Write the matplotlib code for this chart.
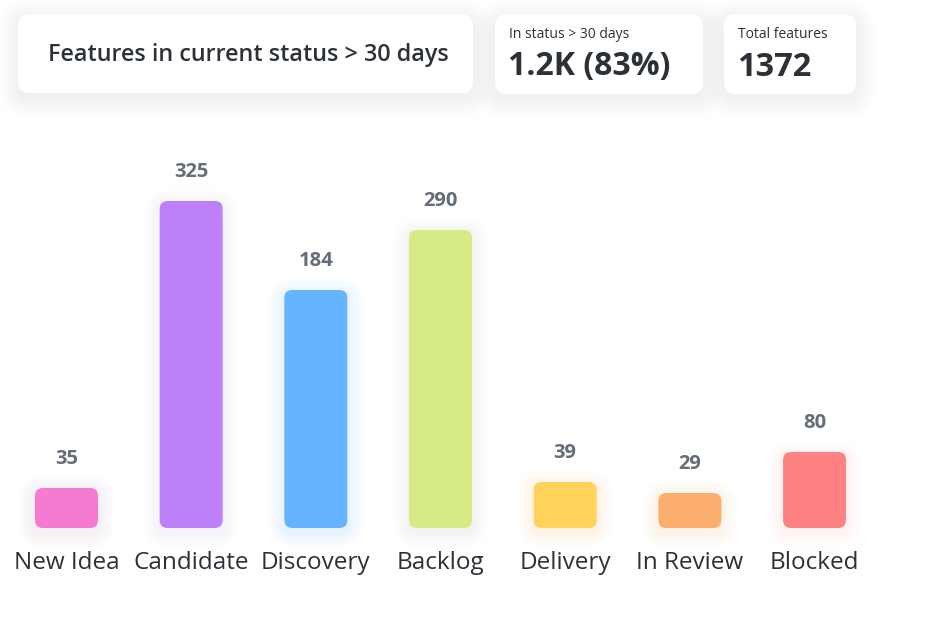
import matplotlib
matplotlib.use("Agg")
import matplotlib.pyplot as plt
from matplotlib.patches import FancyBboxPatch

# ---- data ----
categories = ["New Idea", "Candidate", "Discovery", "Backlog", "Delivery", "In Review", "Blocked"]
value_labels = [35, 325, 184, 290, 39, 29, 80]
bar_heights = [40, 327, 238, 298, 46, 35, 76]   # bar heights as drawn in the picture
bar_colors = ["#f57ad0", "#bd80f9", "#66b3ff", "#d6eb84", "#ffd35a", "#fcae6e", "#ff8282"]
title_text = "Features in current status > 30 days"
kpi1_label, kpi1_value = "In status > 30 days", "1.2K (83%)"
kpi2_label, kpi2_value = "Total features", "1372"

FONT = ["Open Sans", "DejaVu Sans"]
DARK = "#2c3138"
GREY = "#646d78"

W, H = 939, 643
fig = plt.figure(figsize=(W / 100, H / 100), dpi=100)
fig.patch.set_facecolor("white")

# layout layer in pixel coordinates (cards)
lay = fig.add_axes([0, 0, 1, 1])
lay.set_xlim(0, W)
lay.set_ylim(H, 0)
lay.axis("off")


def card(x, y, w, h, r=12):
    for k in range(14, 0, -1):
        p = k * 1.4
        lay.add_patch(FancyBboxPatch((x - p, y - p + 5), w + 2 * p, h + 2 * p,
                                     boxstyle=f"round,pad=0,rounding_size={r + p}",
                                     fc="black", ec="none", alpha=0.0045))
    lay.add_patch(FancyBboxPatch((x, y), w, h, boxstyle=f"round,pad=0,rounding_size={r}",
                                 fc="white", ec="none"))


card(18, 14, 455, 79)
card(495, 14, 208, 80)
card(724, 14, 132, 80)

lay.text(248, 55, title_text, ha="center", va="center", fontsize=16.8,
         color=DARK, family=FONT, fontweight="semibold")
lay.text(509, 34, kpi1_label, ha="left", va="center", fontsize=10, color=DARK, family=FONT)
lay.text(508, 67, kpi1_value, ha="left", va="center", fontsize=23, color=DARK,
         family=FONT, fontweight="bold")
lay.text(738, 34, kpi2_label, ha="left", va="center", fontsize=10, color=DARK, family=FONT)
lay.text(737, 67, kpi2_value, ha="left", va="center", fontsize=23.5, color=DARK,
         family=FONT, fontweight="bold")

# bar axes: 1 x-unit = XPX px, 1 y-unit = 1 px
ax = fig.add_axes([0, 0, 1, 1])
ax.patch.set_visible(False)
XPX = 124.67
X0 = 66.5
ax.set_xlim(-X0 / XPX, (W - X0) / XPX)
ax.set_ylim(-(H - 528), 528)
ax.axis("off")

bw = 63 / XPX
rad = 8
for i, (cat, h, v, c) in enumerate(zip(categories, bar_heights, value_labels, bar_colors)):
    # soft coloured glow
    for k in range(12, 0, -1):
        p = k * 1.3
        ax.add_patch(FancyBboxPatch((i - bw / 2 - p / XPX, -p - 4), bw + 2 * p / XPX, h + 2 * p,
                                    boxstyle=f"round,pad=0,rounding_size={(rad + p) / XPX}",
                                    mutation_aspect=XPX, fc=c, ec="none", alpha=0.008))
    ax.add_patch(FancyBboxPatch((i - bw / 2, 0), bw, h,
                                boxstyle=f"round,pad=0,rounding_size={rad / XPX}",
                                mutation_aspect=XPX, fc=c, ec="none"))
    ax.text(i, h + 29, str(v), ha="center", va="center", fontsize=14.5, color=GREY,
            family=FONT, fontweight="bold")
    ax.text(i, -35, cat, ha="center", va="center", fontsize=17.5, color=DARK, family=FONT)

fig.savefig("out.png", dpi=100, facecolor="white")
